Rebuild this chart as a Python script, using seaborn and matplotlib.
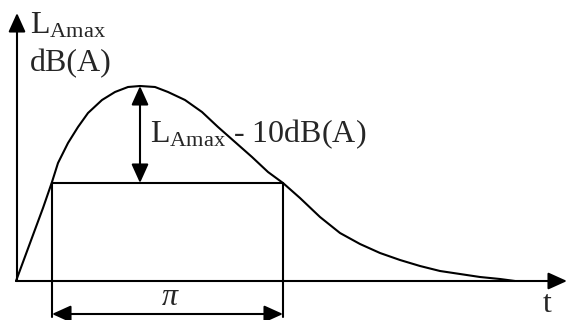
# L_Amax duration sketch

import numpy as np
import pandas as pd
import matplotlib
matplotlib.use('Agg')
import matplotlib.pyplot as plt
import seaborn as sns

# Curve (t, level above the time axis)
curve_t = [0, 17, 27, 36, 42, 52, 62, 72, 86, 99, 112, 124, 139, 152, 169, 186,
           202, 219, 236, 252, 267, 284, 304, 324, 344, 364, 384, 404, 424,
           444, 464, 484, 499]
curve_level = [0, 46, 73, 99, 118, 138, 154, 168, 181, 189, 194, 195, 194, 189,
               181, 169, 154, 139, 124, 109, 98, 83, 64, 48, 37, 28, 21, 15, 10,
               7, 4, 2, 0]

peak_t = 124
peak_level = 195
cut_level = 98          # L_Amax - 10 dB(A)
pi_start = 36
pi_end = 267

t_max = 551
level_max = 268

curve_df = pd.DataFrame({'t': curve_t, 'level': curve_level})

sns.set_theme(style = 'white')
plt.rcParams['font.family'] = ['Liberation Serif', 'DejaVu Serif']
plt.rcParams['mathtext.fontset'] = 'custom'
plt.rcParams['mathtext.rm'] = 'Liberation Serif'
plt.rcParams['mathtext.it'] = 'Liberation Serif:italic'

fig = plt.figure(figsize = (5.69, 3.2), dpi = 100)
ax = fig.add_axes([0, 0, 1, 1])
ax.set_xlim(-16, 553)
ax.set_ylim(-39, 281)
ax.set_axis_off()

lw = 1.5
head = '-|>,head_length=1.15,head_width=0.52'
both = '<|-|>,head_length=1.15,head_width=0.52'

def arrow(x0, y0, x1, y1, style):
    ax.annotate('', xy = (x1, y1), xytext = (x0, y0),
                arrowprops = dict(arrowstyle = style, color = 'black', lw = lw,
                                  shrinkA = 0, shrinkB = 0, mutation_scale = 10))

# Axes with arrows
arrow(1, 0, 1, level_max, head)
arrow(0, 0, t_max, 0, head)

# Level curve
sns.lineplot(ax = ax, data = curve_df, x = 't', y = 'level', sort = False,
             color = 'black', lw = lw)

# Duration box
ax.plot([pi_start, pi_end], [cut_level, cut_level], color = 'black', lw = lw)
ax.plot([pi_start, pi_start], [cut_level, -36], color = 'black', lw = lw)
ax.plot([pi_end, pi_end], [cut_level, -36], color = 'black', lw = lw)

# 10 dB drop and duration arrows
arrow(peak_t, cut_level, peak_t, peak_level, both)
arrow(pi_start, -33, pi_end, -33, both)

fs = 23
ax.text(14, 248, r'$\mathrm{L_{Amax}}$', fontsize = fs, ha = 'left', va = 'baseline')
ax.text(14, 210, 'dB(A)', fontsize = fs, ha = 'left', va = 'baseline')
ax.text(134, 139, r'$\mathrm{L_{Amax}}$ - 10dB(A)', fontsize = fs, ha = 'left', va = 'baseline')
ax.text(154, -24, r'$\pi$', fontsize = fs, ha = 'center', va = 'baseline')
ax.text(527, -31, 't', fontsize = fs, ha = 'left', va = 'baseline')

fig.savefig('out.png', dpi = 100)
plt.close()
